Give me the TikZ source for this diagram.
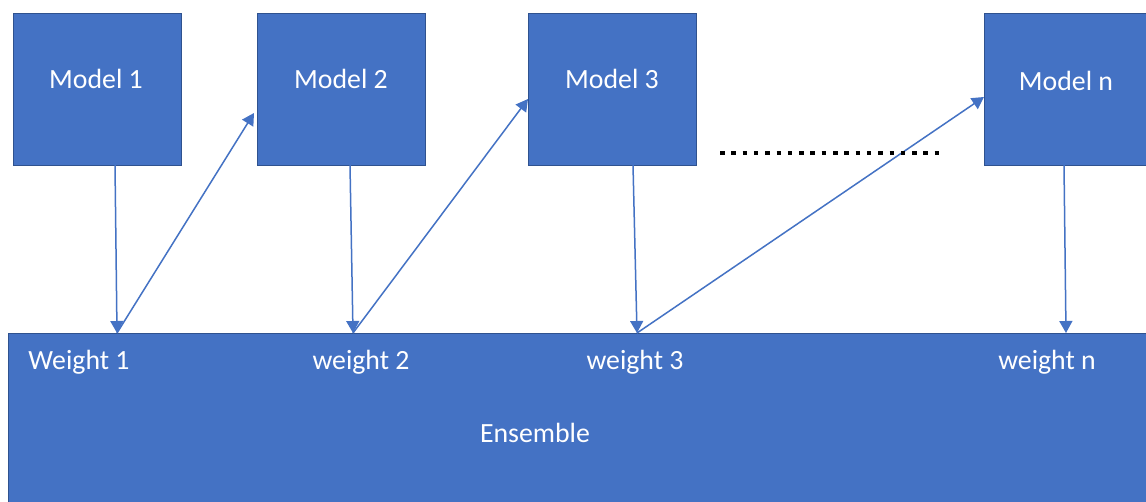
\documentclass[tikz,border=0pt]{standalone}
\usepackage{fontspec}
\setmainfont{Carlito}
\usetikzlibrary{arrows.meta}
\definecolor{boxblue}{HTML}{4472C4}
\definecolor{edgeblue}{HTML}{2F528F}
\tikzset{
  model/.style={draw=edgeblue, line width=1pt, fill=boxblue, minimum width=168pt, minimum height=152pt, inner sep=0pt, anchor=north west},
  lbl/.style={text=white, font=\fontsize{27.8}{32}\selectfont, inner sep=0pt},
  conn/.style={draw=boxblue, line width=1.5pt, -{Triangle[width=13pt,length=12pt]}},
}
\begin{document}
\begin{tikzpicture}[x=1pt,y=-1pt]
\useasboundingbox (0,0) rectangle (1146,502);
\fill[white] (0,0) rectangle (1146,502);
\begin{scope}
\clip (0,0) rectangle (1146,502);
% ensemble
\node[draw=edgeblue, line width=1pt, fill=boxblue, minimum width=1150pt, minimum height=180pt, inner sep=0pt, anchor=north west] (ens) at (8,333) {};
% models
\node[model] (m1) at (13,13) {};
\node[model] (m2) at (257,13) {};
\node[model] (m3) at (528,13) {};
\node[model, minimum width=170pt] (mn) at (984,13) {};
\end{scope}
% labels
\node[lbl] (t1) at (96,79) {Model 1};
\node[lbl] (t2) at (341,79) {Model 2};
\node[lbl] (t3) at (612,79) {Model 3};
\node[lbl] (tn) at (1066,81) {Model n};
\node[lbl] (w1) at (79,362) {Weight 1};
\node[lbl] (w2) at (361,362) {weight 2};
\node[lbl] (w3) at (635,362) {weight 3};
\node[lbl] (wn) at (1047,362) {weight n};
\node[lbl] (te) at (535,433) {Ensemble};
% connector points
\coordinate (m1b) at (115,165);
\coordinate (m2b) at (350,165);
\coordinate (m3b) at (633,165);
\coordinate (mnb) at (1064,165);
\coordinate (e1) at (117,333);
\coordinate (e2) at (353,333);
\coordinate (e3) at (637,333);
\coordinate (en) at (1066,333);
\coordinate (m2l) at (254,113);
\coordinate (m3l) at (528,99);
\coordinate (mnl) at (984,97);
% connectors
\draw[conn] (m1b) -- (e1);
\draw[conn] (e1) -- (m2l);
\draw[conn] (m2b) -- (e2);
\draw[conn] (e2) -- (m3l);
\draw[conn] (m3b) -- (e3);
\draw[conn] (e3) -- (mnl);
\draw[conn] (mnb) -- (en);
% dotted line
\coordinate (d1) at (720,153);
\coordinate (d2) at (945,153);
\draw[black, line width=4.5pt, dash pattern=on 4.5pt off 6.8pt] (d1) -- (d2);
\end{tikzpicture}
\end{document}
